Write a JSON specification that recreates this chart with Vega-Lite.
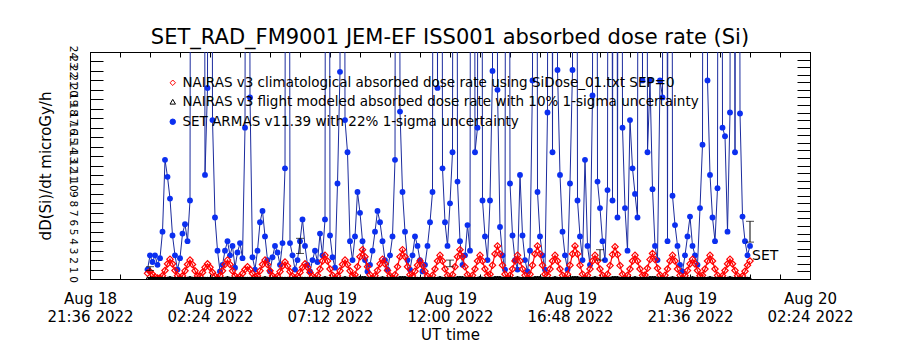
{
"$schema":"https://vega.github.io/schema/vega-lite/v6.json",
"width":720,"height":227,
"autosize":{"type":"none"},
"padding":{"left":90,"top":52,"right":90,"bottom":71},
"background":"white",
"title":{"text":"SET_RAD_FM9001  JEM-EF ISS001 absorbed dose rate (Si)","fontSize":21,"font":"DejaVu Sans","fontWeight":"normal","color":"black","anchor":"middle","offset":-3},
"config":{"view":{"stroke":"black","strokeWidth":1},"font":"DejaVu Sans","axis":{"domainColor":"black","tickColor":"black","labelColor":"black","titleColor":"black","grid":false,"labelFont":"DejaVu Sans","titleFont":"DejaVu Sans","titleFontWeight":"normal","labelFontWeight":"normal"},
 "legend":{"orient":"none","title":null,"padding":0,"labelFontSize":13.5,"labelFont":"DejaVu Sans","labelColor":"black","labelLimit":0,"symbolSize":30,"labelOffset":3,"symbolStrokeWidth":1}},
"resolve":{"axis":{"x":"independent","y":"independent"},"scale":{"color":"independent"},"legend":{"color":"independent"}},
"datasets":{
"d":[
{"t":"2022-08-18T23:54Z","S":1.0,"C":0.6,"F":0.08},
{"t":"2022-08-19T00:00Z","S":2.5,"C":0.8,"F":0.08},
{"t":"2022-08-19T00:06Z","S":1.8,"C":0.5,"F":0.08},
{"t":"2022-08-19T00:12Z","S":2.5,"C":0.2,"F":0.08},
{"t":"2022-08-19T00:18Z","S":1.5,"C":0.1,"F":0.08},
{"t":"2022-08-19T00:24Z","S":2.2,"C":0.1,"F":0.08},
{"t":"2022-08-19T00:30Z","S":5.0,"C":0.34,"F":0.08},
{"t":"2022-08-19T00:36Z","S":12.6,"C":0.9,"F":0.08},
{"t":"2022-08-19T00:42Z","S":10.8,"C":1.6,"F":0.08},
{"t":"2022-08-19T00:48Z","S":8.5,"C":2.1,"F":0.15},
{"t":"2022-08-19T00:54Z","S":4.6,"C":1.6,"F":0.08},
{"t":"2022-08-19T01:00Z","S":2.5,"C":0.9,"F":0.08},
{"t":"2022-08-19T01:06Z","S":1.0,"C":0.34,"F":0.08},
{"t":"2022-08-19T01:12Z","S":2.2,"C":0.1,"F":0.08},
{"t":"2022-08-19T01:18Z","S":4.8,"C":0.33,"F":0.08},
{"t":"2022-08-19T01:24Z","S":5.8,"C":0.86,"F":0.08},
{"t":"2022-08-19T01:30Z","S":4.0,"C":1.53,"F":0.08},
{"t":"2022-08-19T01:36Z","S":8.3,"C":2.0,"F":0.15},
{"t":"2022-08-19T01:42Z","S":200,"C":1.53,"F":0.08},
{"t":"2022-08-19T01:48Z","S":200,"C":0.86,"F":0.08},
{"t":"2022-08-19T01:54Z","S":200,"C":0.33,"F":0.08},
{"t":"2022-08-19T02:00Z","S":200,"C":0.28,"F":0.08},
{"t":"2022-08-19T02:06Z","S":200,"C":0.7,"F":0.08},
{"t":"2022-08-19T02:12Z","S":11.0,"C":1.23,"F":0.08},
{"t":"2022-08-19T02:18Z","S":20.2,"C":1.6,"F":0.08},
{"t":"2022-08-19T02:24Z","S":200,"C":1.23,"F":0.08},
{"t":"2022-08-19T02:30Z","S":16.8,"C":0.7,"F":0.08},
{"t":"2022-08-19T02:36Z","S":6.5,"C":0.28,"F":0.08},
{"t":"2022-08-19T02:42Z","S":3.0,"C":0.1,"F":0.08},
{"t":"2022-08-19T02:48Z","S":0.8,"C":0.33,"F":0.08},
{"t":"2022-08-19T02:54Z","S":1.5,"C":0.86,"F":0.08},
{"t":"2022-08-19T03:00Z","S":3.0,"C":1.53,"F":0.08},
{"t":"2022-08-19T03:06Z","S":4.0,"C":2.0,"F":0.15},
{"t":"2022-08-19T03:12Z","S":2.5,"C":1.53,"F":0.08},
{"t":"2022-08-19T03:18Z","S":3.5,"C":0.86,"F":0.08},
{"t":"2022-08-19T03:24Z","S":1.2,"C":0.33,"F":0.08},
{"t":"2022-08-19T03:30Z","S":2.8,"C":0.1,"F":0.08},
{"t":"2022-08-19T03:36Z","S":3.8,"C":0.24,"F":0.08},
{"t":"2022-08-19T03:42Z","S":2.2,"C":0.58,"F":0.08},
{"t":"2022-08-19T03:48Z","S":16.0,"C":1.0,"F":0.08},
{"t":"2022-08-19T03:54Z","S":200,"C":1.3,"F":0.08},
{"t":"2022-08-19T04:00Z","S":19.2,"C":1.0,"F":0.08},
{"t":"2022-08-19T04:06Z","S":2.3,"C":0.58,"F":0.08},
{"t":"2022-08-19T04:12Z","S":1.0,"C":0.24,"F":0.08},
{"t":"2022-08-19T04:18Z","S":3.0,"C":0.33,"F":0.08},
{"t":"2022-08-19T04:24Z","S":6.0,"C":0.86,"F":0.08},
{"t":"2022-08-19T04:30Z","S":7.2,"C":1.53,"F":0.08},
{"t":"2022-08-19T04:36Z","S":4.5,"C":2.0,"F":0.15},
{"t":"2022-08-19T04:42Z","S":2.0,"C":1.53,"F":0.08},
{"t":"2022-08-19T04:48Z","S":0.8,"C":0.86,"F":0.08},
{"t":"2022-08-19T04:54Z","S":2.3,"C":0.33,"F":0.08},
{"t":"2022-08-19T05:00Z","S":3.5,"C":0.1,"F":0.08},
{"t":"2022-08-19T05:06Z","S":2.8,"C":0.3,"F":0.08},
{"t":"2022-08-19T05:12Z","S":1.5,"C":0.78,"F":0.08},
{"t":"2022-08-19T05:18Z","S":3.8,"C":1.38,"F":0.08},
{"t":"2022-08-19T05:24Z","S":11.7,"C":1.8,"F":0.08},
{"t":"2022-08-19T05:30Z","S":200,"C":1.38,"F":0.08},
{"t":"2022-08-19T05:36Z","S":3.8,"C":0.78,"F":0.08},
{"t":"2022-08-19T05:42Z","S":2.5,"C":0.3,"F":0.08},
{"t":"2022-08-19T05:48Z","S":1.0,"C":0.1,"F":0.08},
{"t":"2022-08-19T05:54Z","S":2.0,"C":0.28,"F":0.08},
{"t":"2022-08-19T06:00Z","S":4.0,"C":0.7,"F":0.08},
{"t":"2022-08-19T06:06Z","S":6.3,"C":1.23,"F":0.08},
{"t":"2022-08-19T06:12Z","S":3.5,"C":1.6,"F":0.08},
{"t":"2022-08-19T06:18Z","S":1.5,"C":1.23,"F":0.08},
{"t":"2022-08-19T06:24Z","S":0.8,"C":0.7,"F":0.08},
{"t":"2022-08-19T06:30Z","S":2.0,"C":0.28,"F":0.08},
{"t":"2022-08-19T06:36Z","S":3.0,"C":0.1,"F":0.08},
{"t":"2022-08-19T06:42Z","S":1.8,"C":0.39,"F":0.08},
{"t":"2022-08-19T06:48Z","S":4.8,"C":1.06,"F":0.08},
{"t":"2022-08-19T06:54Z","S":2.5,"C":1.9,"F":0.08},
{"t":"2022-08-19T07:00Z","S":6.3,"C":2.5,"F":0.15},
{"t":"2022-08-19T07:06Z","S":200,"C":1.9,"F":0.08},
{"t":"2022-08-19T07:12Z","S":4.6,"C":1.06,"F":0.08},
{"t":"2022-08-19T07:18Z","S":2.3,"C":0.39,"F":0.08},
{"t":"2022-08-19T07:24Z","S":1.2,"C":0.1,"F":0.08},
{"t":"2022-08-19T07:30Z","S":10.1,"C":0.33,"F":0.08},
{"t":"2022-08-19T07:36Z","S":21.9,"C":0.86,"F":0.08},
{"t":"2022-08-19T07:42Z","S":200,"C":1.53,"F":0.08},
{"t":"2022-08-19T07:48Z","S":16.8,"C":2.0,"F":0.15},
{"t":"2022-08-19T07:54Z","S":13.4,"C":1.53,"F":0.08},
{"t":"2022-08-19T08:00Z","S":4.0,"C":0.86,"F":0.08},
{"t":"2022-08-19T08:06Z","S":2.0,"C":0.33,"F":0.08},
{"t":"2022-08-19T08:12Z","S":4.5,"C":0.46,"F":0.08},
{"t":"2022-08-19T08:18Z","S":9.2,"C":1.3,"F":0.08},
{"t":"2022-08-19T08:24Z","S":7.0,"C":2.35,"F":0.15},
{"t":"2022-08-19T08:30Z","S":4.0,"C":3.1,"F":0.15},
{"t":"2022-08-19T08:36Z","S":2.0,"C":2.35,"F":0.15},
{"t":"2022-08-19T08:42Z","S":0.8,"C":1.3,"F":0.08},
{"t":"2022-08-19T08:48Z","S":1.5,"C":0.46,"F":0.08},
{"t":"2022-08-19T08:54Z","S":3.0,"C":0.1,"F":0.08},
{"t":"2022-08-19T09:00Z","S":5.0,"C":0.34,"F":0.08},
{"t":"2022-08-19T09:06Z","S":7.2,"C":0.9,"F":0.08},
{"t":"2022-08-19T09:12Z","S":6.0,"C":1.6,"F":0.08},
{"t":"2022-08-19T09:18Z","S":4.0,"C":2.1,"F":0.15},
{"t":"2022-08-19T09:24Z","S":2.0,"C":1.6,"F":0.08},
{"t":"2022-08-19T09:30Z","S":1.0,"C":0.9,"F":0.08},
{"t":"2022-08-19T09:36Z","S":2.5,"C":0.34,"F":0.08},
{"t":"2022-08-19T09:42Z","S":4.5,"C":0.1,"F":0.08},
{"t":"2022-08-19T09:48Z","S":12.6,"C":0.46,"F":0.08},
{"t":"2022-08-19T09:54Z","S":200,"C":1.3,"F":0.08},
{"t":"2022-08-19T10:00Z","S":17.7,"C":2.35,"F":0.15},
{"t":"2022-08-19T10:06Z","S":9.2,"C":3.1,"F":0.15},
{"t":"2022-08-19T10:12Z","S":5.0,"C":2.35,"F":0.15},
{"t":"2022-08-19T10:18Z","S":2.0,"C":1.3,"F":0.08},
{"t":"2022-08-19T10:24Z","S":1.0,"C":0.46,"F":0.08},
{"t":"2022-08-19T10:30Z","S":2.5,"C":0.32,"F":0.08},
{"t":"2022-08-19T10:36Z","S":4.5,"C":0.82,"F":0.08},
{"t":"2022-08-19T10:42Z","S":3.5,"C":1.45,"F":0.08},
{"t":"2022-08-19T10:48Z","S":2.0,"C":1.9,"F":0.08},
{"t":"2022-08-19T10:54Z","S":0.8,"C":1.45,"F":0.08},
{"t":"2022-08-19T11:00Z","S":1.5,"C":0.82,"F":0.08},
{"t":"2022-08-19T11:06Z","S":3.5,"C":0.32,"F":0.08},
{"t":"2022-08-19T11:12Z","S":6.0,"C":0.1,"F":0.08},
{"t":"2022-08-19T11:18Z","S":9.2,"C":0.39,"F":0.08},
{"t":"2022-08-19T11:24Z","S":200,"C":1.06,"F":0.08},
{"t":"2022-08-19T11:30Z","S":20.2,"C":1.9,"F":0.08},
{"t":"2022-08-19T11:36Z","S":200,"C":2.5,"F":0.15},
{"t":"2022-08-19T11:42Z","S":11.7,"C":1.9,"F":0.08},
{"t":"2022-08-19T11:48Z","S":6.0,"C":1.06,"F":0.08},
{"t":"2022-08-19T11:54Z","S":3.5,"C":0.39,"F":0.08},
{"t":"2022-08-19T12:00Z","S":8.0,"C":0.1,"F":0.08},
{"t":"2022-08-19T12:06Z","S":13.4,"C":0.46,"F":0.08},
{"t":"2022-08-19T12:12Z","S":200,"C":1.3,"F":0.08},
{"t":"2022-08-19T12:18Z","S":10.3,"C":2.35,"F":0.15},
{"t":"2022-08-19T12:24Z","S":4.0,"C":3.1,"F":0.15},
{"t":"2022-08-19T12:30Z","S":1.5,"C":2.35,"F":0.15},
{"t":"2022-08-19T12:36Z","S":2.5,"C":1.3,"F":0.08},
{"t":"2022-08-19T12:42Z","S":5.7,"C":0.46,"F":0.08},
{"t":"2022-08-19T12:48Z","S":3.0,"C":0.1,"F":0.08},
{"t":"2022-08-19T12:54Z","S":200,"C":0.39,"F":0.08},
{"t":"2022-08-19T13:00Z","S":13.4,"C":1.06,"F":0.08},
{"t":"2022-08-19T13:06Z","S":16.0,"C":1.9,"F":0.08},
{"t":"2022-08-19T13:12Z","S":200,"C":2.5,"F":0.15},
{"t":"2022-08-19T13:18Z","S":8.3,"C":1.9,"F":0.08},
{"t":"2022-08-19T13:24Z","S":4.5,"C":1.06,"F":0.08},
{"t":"2022-08-19T13:30Z","S":2.0,"C":0.39,"F":0.08},
{"t":"2022-08-19T13:36Z","S":8.3,"C":0.51,"F":0.08},
{"t":"2022-08-19T13:42Z","S":22.0,"C":1.46,"F":0.08},
{"t":"2022-08-19T13:48Z","S":200,"C":2.65,"F":0.15},
{"t":"2022-08-19T13:54Z","S":20.0,"C":3.5,"F":0.15},
{"t":"2022-08-19T14:00Z","S":5.5,"C":2.65,"F":0.15},
{"t":"2022-08-19T14:06Z","S":2.5,"C":1.46,"F":0.08},
{"t":"2022-08-19T14:12Z","S":1.0,"C":0.51,"F":0.08},
{"t":"2022-08-19T14:18Z","S":200,"C":0.1,"F":0.08},
{"t":"2022-08-19T14:24Z","S":10.1,"C":0.39,"F":0.08},
{"t":"2022-08-19T14:30Z","S":4.6,"C":1.06,"F":0.08},
{"t":"2022-08-19T14:36Z","S":2.0,"C":1.9,"F":0.08},
{"t":"2022-08-19T14:42Z","S":1.0,"C":2.5,"F":0.15},
{"t":"2022-08-19T14:48Z","S":11.0,"C":1.9,"F":0.08},
{"t":"2022-08-19T14:54Z","S":4.6,"C":1.06,"F":0.08},
{"t":"2022-08-19T15:00Z","S":2.0,"C":0.39,"F":0.08},
{"t":"2022-08-19T15:06Z","S":0.8,"C":0.1,"F":0.08},
{"t":"2022-08-19T15:12Z","S":3.0,"C":0.51,"F":0.08},
{"t":"2022-08-19T15:18Z","S":21.0,"C":1.46,"F":0.08},
{"t":"2022-08-19T15:24Z","S":200,"C":2.65,"F":0.15},
{"t":"2022-08-19T15:30Z","S":9.2,"C":3.5,"F":0.15},
{"t":"2022-08-19T15:36Z","S":4.5,"C":2.65,"F":0.15},
{"t":"2022-08-19T15:42Z","S":2.5,"C":1.46,"F":0.08},
{"t":"2022-08-19T15:48Z","S":1.0,"C":0.51,"F":0.08},
{"t":"2022-08-19T15:54Z","S":17.6,"C":0.39,"F":0.08},
{"t":"2022-08-19T16:00Z","S":200,"C":1.06,"F":0.08},
{"t":"2022-08-19T16:06Z","S":13.4,"C":1.9,"F":0.08},
{"t":"2022-08-19T16:12Z","S":200,"C":2.5,"F":0.15},
{"t":"2022-08-19T16:18Z","S":22.1,"C":1.9,"F":0.08},
{"t":"2022-08-19T16:24Z","S":11.0,"C":1.06,"F":0.08},
{"t":"2022-08-19T16:30Z","S":5.0,"C":0.39,"F":0.08},
{"t":"2022-08-19T16:36Z","S":2.5,"C":0.1,"F":0.08},
{"t":"2022-08-19T16:42Z","S":1.0,"C":0.51,"F":0.08},
{"t":"2022-08-19T16:48Z","S":10.1,"C":1.46,"F":0.08},
{"t":"2022-08-19T16:54Z","S":22.1,"C":2.65,"F":0.15},
{"t":"2022-08-19T17:00Z","S":200,"C":3.5,"F":0.15},
{"t":"2022-08-19T17:06Z","S":8.3,"C":2.65,"F":0.15},
{"t":"2022-08-19T17:12Z","S":4.5,"C":1.46,"F":0.08},
{"t":"2022-08-19T17:18Z","S":2.0,"C":0.51,"F":0.08},
{"t":"2022-08-19T17:24Z","S":12.6,"C":0.1,"F":0.08},
{"t":"2022-08-19T17:30Z","S":3.5,"C":0.39,"F":0.08},
{"t":"2022-08-19T17:36Z","S":1.5,"C":1.06,"F":0.08},
{"t":"2022-08-19T17:42Z","S":19.4,"C":1.9,"F":0.08},
{"t":"2022-08-19T17:48Z","S":200,"C":2.5,"F":0.15},
{"t":"2022-08-19T17:54Z","S":10.3,"C":1.9,"F":0.08},
{"t":"2022-08-19T18:00Z","S":7.5,"C":1.06,"F":0.08},
{"t":"2022-08-19T18:06Z","S":4.0,"C":0.39,"F":0.08},
{"t":"2022-08-19T18:12Z","S":2.0,"C":0.1,"F":0.08},
{"t":"2022-08-19T18:18Z","S":9.4,"C":0.5,"F":0.08},
{"t":"2022-08-19T18:24Z","S":200,"C":1.42,"F":0.08},
{"t":"2022-08-19T18:30Z","S":8.3,"C":2.58,"F":0.15},
{"t":"2022-08-19T18:36Z","S":200,"C":3.4,"F":0.15},
{"t":"2022-08-19T18:42Z","S":6.5,"C":2.58,"F":0.15},
{"t":"2022-08-19T18:48Z","S":200,"C":1.42,"F":0.08},
{"t":"2022-08-19T18:54Z","S":16.0,"C":0.5,"F":0.08},
{"t":"2022-08-19T19:00Z","S":7.5,"C":0.1,"F":0.08},
{"t":"2022-08-19T19:06Z","S":3.0,"C":0.39,"F":0.08},
{"t":"2022-08-19T19:12Z","S":16.8,"C":1.06,"F":0.08},
{"t":"2022-08-19T19:18Z","S":11.7,"C":1.9,"F":0.08},
{"t":"2022-08-19T19:24Z","S":9.0,"C":2.5,"F":0.15},
{"t":"2022-08-19T19:30Z","S":6.5,"C":1.9,"F":0.08},
{"t":"2022-08-19T19:36Z","S":200,"C":1.06,"F":0.08},
{"t":"2022-08-19T19:42Z","S":21.0,"C":0.39,"F":0.08},
{"t":"2022-08-19T19:48Z","S":200,"C":0.41,"F":0.08},
{"t":"2022-08-19T19:54Z","S":13.4,"C":1.14,"F":0.08},
{"t":"2022-08-19T20:00Z","S":21.0,"C":2.05,"F":0.15},
{"t":"2022-08-19T20:06Z","S":9.5,"C":2.7,"F":0.15},
{"t":"2022-08-19T20:12Z","S":3.5,"C":2.05,"F":0.15},
{"t":"2022-08-19T20:18Z","S":2.0,"C":1.14,"F":0.08},
{"t":"2022-08-19T20:24Z","S":21.0,"C":0.41,"F":0.08},
{"t":"2022-08-19T20:30Z","S":19.2,"C":0.1,"F":0.08},
{"t":"2022-08-19T20:36Z","S":200,"C":0.39,"F":0.08},
{"t":"2022-08-19T20:42Z","S":4.0,"C":1.06,"F":0.08},
{"t":"2022-08-19T20:48Z","S":200,"C":1.9,"F":0.08},
{"t":"2022-08-19T20:54Z","S":8.8,"C":2.5,"F":0.15},
{"t":"2022-08-19T21:00Z","S":5.7,"C":1.9,"F":0.08},
{"t":"2022-08-19T21:06Z","S":3.5,"C":1.06,"F":0.08},
{"t":"2022-08-19T21:12Z","S":1.5,"C":0.39,"F":0.08},
{"t":"2022-08-19T21:18Z","S":0.8,"C":0.1,"F":0.08},
{"t":"2022-08-19T21:24Z","S":2.5,"C":0.34,"F":0.08},
{"t":"2022-08-19T21:30Z","S":4.5,"C":0.9,"F":0.08},
{"t":"2022-08-19T21:36Z","S":6.6,"C":1.6,"F":0.08},
{"t":"2022-08-19T21:42Z","S":3.5,"C":2.1,"F":0.15},
{"t":"2022-08-19T21:48Z","S":2.5,"C":1.6,"F":0.08},
{"t":"2022-08-19T21:54Z","S":1.5,"C":0.9,"F":0.08},
{"t":"2022-08-19T22:00Z","S":7.5,"C":0.34,"F":0.08},
{"t":"2022-08-19T22:06Z","S":14.2,"C":0.39,"F":0.08},
{"t":"2022-08-19T22:12Z","S":200,"C":1.06,"F":0.08},
{"t":"2022-08-19T22:18Z","S":21.0,"C":1.9,"F":0.08},
{"t":"2022-08-19T22:24Z","S":11.0,"C":2.5,"F":0.15},
{"t":"2022-08-19T22:30Z","S":6.5,"C":1.9,"F":0.08},
{"t":"2022-08-19T22:36Z","S":4.0,"C":1.06,"F":0.08},
{"t":"2022-08-19T22:42Z","S":9.6,"C":0.39,"F":0.08},
{"t":"2022-08-19T22:48Z","S":200,"C":0.1,"F":0.08},
{"t":"2022-08-19T22:54Z","S":16.0,"C":0.34,"F":0.08},
{"t":"2022-08-19T23:00Z","S":15.1,"C":0.9,"F":0.08},
{"t":"2022-08-19T23:06Z","S":5.0,"C":1.6,"F":0.08},
{"t":"2022-08-19T23:12Z","S":17.6,"C":2.1,"F":0.15},
{"t":"2022-08-19T23:18Z","S":200,"C":1.6,"F":0.08},
{"t":"2022-08-19T23:24Z","S":13.4,"C":0.9,"F":0.08},
{"t":"2022-08-19T23:30Z","S":200,"C":0.34,"F":0.08},
{"t":"2022-08-19T23:36Z","S":17.5,"C":0.1,"F":0.08},
{"t":"2022-08-19T23:42Z","S":6.6,"C":0.32,"F":0.08},
{"t":"2022-08-19T23:48Z","S":4.0,"C":0.82,"F":0.08},
{"t":"2022-08-19T23:54Z","S":2.5,"C":1.45,"F":0.08},
{"t":"2022-08-20T00:00Z","S":3.5,"C":1.9,"F":0.08}
],
"eb":[
{"t":"2022-08-19T00:00Z","lo":0.9,"hi":1.3},
{"t":"2022-08-19T06:00Z","lo":2.7,"hi":4.3},
{"t":"2022-08-19T12:00Z","lo":1.3,"hi":2.0},
{"t":"2022-08-19T18:00Z","lo":2.0,"hi":3.1},
{"t":"2022-08-20T00:00Z","lo":3.9,"hi":6.1}
],
"lab":[{"t":"2022-08-20T00:00Z","v":2.4,"label":"SET"}]
},
"layer":[
{"data":{"name":"d"},
 "mark":{"type":"line","color":"#1b2b9e","strokeWidth":1,"clip":true},
 "encoding":{
  "x":{"field":"t","type":"temporal","scale":{"type":"utc","domain":[1660858560000,1660962240000]},
   "axis":{"orient":"bottom","values":[1660858560000,1660862880000,1660867200000,1660871520000,1660875840000,1660880160000,1660884480000,1660888800000,1660893120000,1660897440000,1660901760000,1660906080000,1660910400000,1660914720000,1660919040000,1660923360000,1660927680000,1660932000000,1660936320000,1660940640000,1660944960000,1660949280000,1660953600000,1660957920000,1660962240000],
    "labelExpr":"(datum.value - 1660858560000) % 17280000 === 0 ? [utcFormat(datum.value, '%b %d'), utcFormat(datum.value, '%H:%M %Y')] : ''",
    "tickSize":-5,"labelPadding":17,"labelFontSize":15,"labelLineHeight":18,"labelBaseline":"top","labelAlign":"center","labelOverlap":false,"labelFlush":false,
    "title":"UT time","titleFontSize":15,"titlePadding":3}},
  "y":{"field":"S","type":"quantitative","scale":{"domain":[0,24]},
   "axis":{"orient":"left","values":[0,1,2,3,4,5,6,7,8,9,10,11,12,13,14,15,16,17,18,19,20,21,22,23,24],"labelAngle":90,"labelFontSize":10.5,"labelAlign":"center","labelBaseline":"middle","labelOverlap":false,"labelFlush":false,"tickSize":-13,"labelPadding":31,
    "title":"dD(Si)/dt microGy/h","titleFontSize":15,"titlePadding":13}}}},
{"data":{"name":"d"},
 "mark":{"type":"point","shape":"circle","filled":true,"size":34,"opacity":1,"clip":true},
 "encoding":{
  "x":{"field":"t","type":"temporal","scale":{"type":"utc","domain":[1660858560000,1660962240000]},"axis":null},
  "y":{"field":"S","type":"quantitative","scale":{"domain":[0,24]},"axis":null},
  "color":{"datum":"SET ARMAS v11.39 with 22% 1-sigma uncertainty","scale":{"range":["#0b2ff0"]},
   "legend":{"legendX":76,"legendY":63,"symbolType":"circle","symbolFillColor":"#0b2ff0","symbolStrokeColor":"#0b2ff0"}}}},
{"data":{"name":"d"},
 "mark":{"type":"line","color":"#ff0000","strokeWidth":1.2,"clip":true},
 "encoding":{
  "x":{"field":"t","type":"temporal","scale":{"type":"utc","domain":[1660858560000,1660962240000]},"axis":null},
  "y":{"field":"C","type":"quantitative","scale":{"domain":[0,24]},"axis":null}}},
{"data":{"name":"d"},
 "mark":{"type":"point","shape":"diamond","filled":false,"size":40,"strokeWidth":1.2,"opacity":1,"clip":true},
 "encoding":{
  "x":{"field":"t","type":"temporal","scale":{"type":"utc","domain":[1660858560000,1660962240000]},"axis":null},
  "y":{"field":"C","type":"quantitative","scale":{"domain":[0,24]},"axis":null},
  "color":{"datum":"NAIRAS v3 climatological absorbed dose rate using SiDose_01.txt SEP=0","scale":{"range":["#ff0000"]},
   "legend":{"legendX":76,"legendY":24,"symbolType":"diamond","symbolFillColor":"transparent","symbolStrokeColor":"#ff0000"}}}},
{"data":{"name":"d"},
 "mark":{"type":"line","color":"#000000","strokeWidth":2.5,"clip":true},
 "encoding":{
  "x":{"field":"t","type":"temporal","scale":{"type":"utc","domain":[1660858560000,1660962240000]},
   "axis":{"orient":"top","values":[1660858560000,1660862880000,1660867200000,1660871520000,1660875840000,1660880160000,1660884480000,1660888800000,1660893120000,1660897440000,1660901760000,1660906080000,1660910400000,1660914720000,1660919040000,1660923360000,1660927680000,1660932000000,1660936320000,1660940640000,1660944960000,1660949280000,1660953600000,1660957920000,1660962240000],"labels":false,"tickSize":-5,"title":null}},
  "y":{"field":"F","type":"quantitative","scale":{"domain":[0,24]},
   "axis":{"orient":"right","values":[0,0.8,1.6,2.4,3.2,4,4.8,5.6,6.4,7.2,8,8.8,9.6,10.4,11.2,12,12.8,13.6,14.4,15.2,16,16.8,17.6,18.4,19.2,20,20.8,21.6,22.4,23.2,24],"labels":false,"tickSize":-13,"title":null}}}},
{"data":{"name":"d"},
 "mark":{"type":"point","shape":"triangle-up","filled":false,"size":10,"strokeWidth":1,"opacity":1,"clip":true},
 "encoding":{
  "x":{"field":"t","type":"temporal","scale":{"type":"utc","domain":[1660858560000,1660962240000]},"axis":null},
  "y":{"field":"F","type":"quantitative","scale":{"domain":[0,24]},"axis":null},
  "color":{"datum":"NAIRAS v3 flight modeled absorbed dose rate with 10% 1-sigma uncertainty","scale":{"range":["#000000"]},
   "legend":{"legendX":76,"legendY":43,"symbolType":"triangle-up","symbolFillColor":"transparent","symbolStrokeColor":"#000000"}}}},
{"data":{"name":"eb"},
 "mark":{"type":"errorbar","ticks":{"size":8,"color":"black","thickness":1},"rule":{"color":"black","strokeWidth":1}},
 "encoding":{
  "x":{"field":"t","type":"temporal","scale":{"type":"utc","domain":[1660858560000,1660962240000]},"axis":null},
  "y":{"field":"lo","type":"quantitative","scale":{"domain":[0,24]},"axis":null},
  "y2":{"field":"hi"}}},
{"data":{"name":"lab"},
 "mark":{"type":"text","align":"left","baseline":"middle","dx":2,"fontSize":14,"font":"DejaVu Sans","color":"black"},
 "encoding":{
  "x":{"field":"t","type":"temporal","scale":{"type":"utc","domain":[1660858560000,1660962240000]},"axis":null},
  "y":{"field":"v","type":"quantitative","scale":{"domain":[0,24]},"axis":null},
  "text":{"field":"label"}}}
]
}
